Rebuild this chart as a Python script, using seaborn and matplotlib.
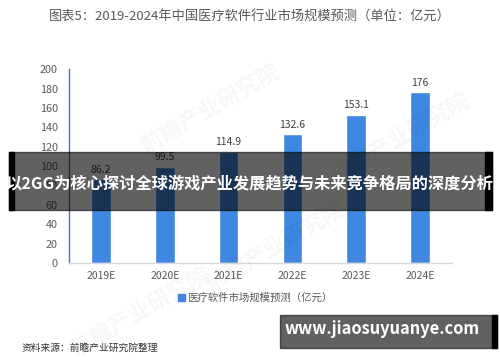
import matplotlib
matplotlib.use('Agg')
import matplotlib.pyplot as plt
import seaborn as sns
import pandas as pd
from matplotlib.patches import Rectangle

# data
years = ['2019E', '2020E', '2021E', '2022E', '2023E', '2024E']
values = [86.2, 99.5, 114.9, 132.6, 153.1, 176]
series_name = '医疗软件市场规模预测（亿元）'

df = pd.DataFrame({'year': years, 'value': values})

sns.set_theme(style='white')
plt.rcParams['font.family'] = ['Noto Sans CJK SC', 'DejaVu Sans']

fig = plt.figure(figsize=(5, 3.62), dpi=100)
ax = fig.add_axes([0.138, 0.2735, 0.766, 0.5355])

bar_color = '#3F87E0'
sns.barplot(data=df, x='year', y='value', color=bar_color, width=0.31,
            saturation=1, ax=ax)

for i, v in enumerate(values):
    ax.text(i, v + 5, f'{v:g}', ha='center', va='bottom', fontsize=7.5, color='#404040')

ax.set_ylim(0, 200)
ax.set_yticks(range(0, 201, 20))
ax.set_xlim(-0.5, 5.5)
ax.set_xlabel('')
ax.set_ylabel('')
ax.tick_params(axis='y', labelsize=7.8, labelcolor='#595959', length=3,
               color='#4472C4', direction='out', pad=5)
ax.tick_params(axis='x', labelsize=7.5, labelcolor='#595959', length=0, pad=6)
for s in ['top', 'right']:
    ax.spines[s].set_visible(False)
ax.spines['left'].set_color('#4472C4')
ax.spines['left'].set_linewidth(1)
ax.spines['bottom'].set_color('#D9D9D9')
ax.spines['bottom'].set_linewidth(1)

# title
fig.text(0.5, 0.953, '图表5：2019-2024年中国医疗软件行业市场规模预测（单位：亿元）',
         ha='center', va='center', fontsize=9.5, color='#595959')

# legend
fig.patches.append(Rectangle((0.355, 0.168), 0.014, 0.019, transform=fig.transFigure,
                             color=bar_color, figure=fig))
fig.text(0.375, 0.177, series_name, ha='left', va='center', fontsize=7.5, color='#595959')

# source
fig.text(0.044, 0.04, '资料来源：前瞻产业研究院整理', ha='left', va='center',
         fontsize=7, color='#333333', style='italic')

# watermarks
for x, y in [(0.42, 0.70), (0.55, 0.32), (0.80, 0.62), (0.28, 0.14)]:
    fig.text(x, y, '前瞻产业研究院', rotation=30, fontsize=16, color='#000000',
             alpha=0.035, ha='center', va='center', fontweight='bold')

# banner overlay
fig.patches.append(Rectangle((0.018, 0.42), 0.966, 0.16, transform=fig.transFigure,
                             color='black', alpha=0.62, figure=fig, zorder=10))
fig.patches.append(Rectangle((0.018, 0.42), 0.01, 0.16, transform=fig.transFigure,
                             color='black', figure=fig, zorder=11))
fig.patches.append(Rectangle((0.97, 0.42), 0.014, 0.16, transform=fig.transFigure,
                             color='black', figure=fig, zorder=11))
fig.text(0.5, 0.49, '以2GG为核心探讨全球游戏产业发展趋势与未来竞争格局的深度分析',
         ha='center', va='center', fontsize=11.7, color='white', fontweight='bold',
         zorder=12)

# site box
fig.patches.append(Rectangle((0.56, 0.04), 0.434, 0.09, transform=fig.transFigure,
                             color='black', alpha=0.62, figure=fig, zorder=10))
fig.patches.append(Rectangle((0.984, 0.04), 0.01, 0.09, transform=fig.transFigure,
                             color='black', figure=fig, zorder=11))
fig.text(0.765, 0.09, 'www.jiaosuyuanye.com', ha='center', va='center', fontsize=11.8,
         color='white', fontweight='bold', zorder=12)

fig.savefig('out.png', dpi=100)
